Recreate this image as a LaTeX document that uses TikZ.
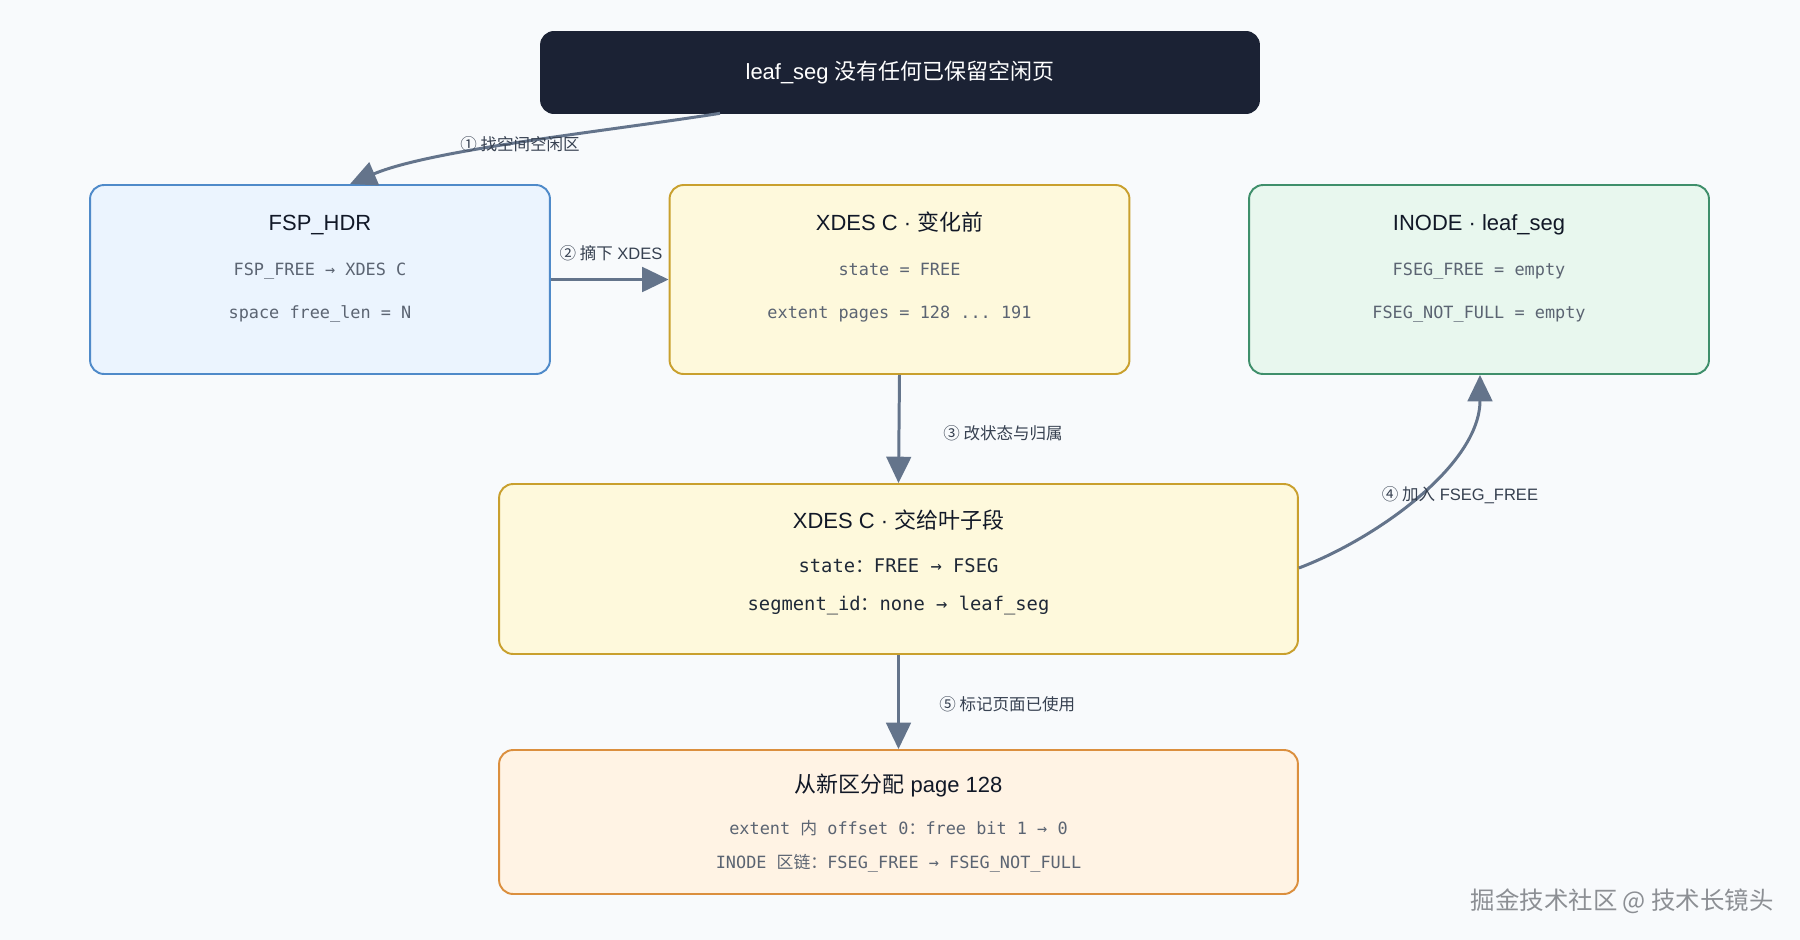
\documentclass[tikz,border=0pt]{standalone}
\usepackage{fontspec}
\setmainfont{Liberation Sans}
\setmonofont{DejaVu Sans Mono}
\newfontfamily\cjk{Noto Sans CJK SC}
\usetikzlibrary{arrows.meta,calc}
\definecolor{bgcol}{HTML}{F8FAFC}
\definecolor{navy}{HTML}{1B2234}
\definecolor{arrowcol}{HTML}{64748B}
\definecolor{bluefill}{HTML}{EBF4FE}
\definecolor{blueline}{HTML}{4F8AC9}
\definecolor{yellowfill}{HTML}{FEF9DC}
\definecolor{yellowline}{HTML}{C9A02E}
\definecolor{greenfill}{HTML}{E8F7EE}
\definecolor{greenline}{HTML}{3F8F6B}
\definecolor{orangefill}{HTML}{FFF3E4}
\definecolor{orangeline}{HTML}{DB8F3E}
\definecolor{titlecol}{HTML}{111827}
\definecolor{monocol}{HTML}{5B6472}
\definecolor{darkmono}{HTML}{1F2937}
\definecolor{labelcol}{HTML}{374151}
\definecolor{markcol}{HTML}{8C8F94}
\begin{document}
\begin{tikzpicture}[x=0.02cm,y=-0.02cm,%
every node/.style={inner sep=0pt, align=center},
mybox/.style={rectangle, rounded corners=0.28cm, line width=1.1pt, minimum width=9.2cm, minimum height=3.78cm},
widebox/.style={mybox, minimum width=15.98cm},
mytitle/.style={anchor=mid, text=titlecol, font=\fontsize{12.5}{15}\selectfont},
mymono/.style={anchor=mid, text=monocol, font=\ttfamily\fontsize{9.6}{12}\selectfont},
darkmono/.style={anchor=mid, text=darkmono, font=\ttfamily\fontsize{10.7}{13}\selectfont},
mylabel/.style={anchor=mid, text=labelcol, font=\fontsize{9.4}{11}\selectfont},
myarrow/.style={draw=arrowcol, line width=1.7pt, -{Triangle[length=15pt,width=14pt]}} ]
% background
\fill[bgcol] (0,0) rectangle (1800,940);
\node[rectangle, rounded corners=0.28cm, fill=navy, minimum width=14.4cm, minimum height=1.66cm,
 text=white, font=\fontsize{12.5}{15}\selectfont] (top) at (900,72.5) {leaf\_seg {\cjk 没有任何已保留空闲页}};
% first row
\node[mybox, fill=bluefill, draw=blueline] (fsp) at (320,279.5) {};
\node[mytitle] (fsp-title) at (320,225.5) {FSP\_HDR};
\node[mymono] (fsp-a) at (320,270.5) {FSP\_FREE → XDES C};
\node[mymono] (fsp-b) at (320,313.5) {space free\_len = N};
\node[mybox, fill=yellowfill, draw=yellowline] (xold) at (899.5,279.5) {};
\node[mytitle] (xold-title) at (899.5,225.5) {XDES C · {\cjk 变化前}};
\node[mymono] (xold-a) at (899.5,270.5) {state = FREE};
\node[mymono] (xold-b) at (899.5,313.5) {extent pages = 128 ... 191};
\node[mybox, fill=greenfill, draw=greenline] (inode) at (1479,279.5) {};
\node[mytitle] (inode-title) at (1479,225.5) {INODE · leaf\_seg};
\node[mymono] (inode-a) at (1479,270.5) {FSEG\_FREE = empty};
\node[mymono] (inode-b) at (1479,313.5) {FSEG\_NOT\_FULL = empty};
% handed to the leaf segment
\node[widebox, minimum height=3.4cm, fill=yellowfill, draw=yellowline] (xnew) at (898.5,569) {};
\node[mytitle] (xnew-title) at (898.5,523.5) {XDES C · {\cjk 交给叶子段}};
\node[darkmono] (xnew-a) at (898.5,567.5) {state{\cjk ：}FREE → FSEG};
\node[darkmono] (xnew-b) at (898.5,605.5) {segment\_id{\cjk ：}none → leaf\_seg};
% page allocation
\node[widebox, minimum height=2.88cm, fill=orangefill, draw=orangeline] (alloc) at (898.5,822) {};
\node[mytitle] (alloc-title) at (898.5,788) {{\cjk 从新区分配} page 128};
\node[mymono] (alloc-a) at (898.5,829.5) {extent {\cjk 内} offset 0{\cjk ：}free bit 1 → 0};
\node[mymono] (alloc-b) at (898.5,863.5) {INODE {\cjk 区链：}FSEG\_FREE → FSEG\_NOT\_FULL};
% connectors
\draw[myarrow] ($(top.south)+(-180,-1)$) .. controls (600,132) and (430,150) .. ($(fsp.north)+(30,0)$);
\draw[myarrow] (fsp.east) -- (xold.west);
\draw[myarrow] (xold.south) -- (xnew.north);
\draw[myarrow] ($(xnew.east)+(0,-1)$) .. controls (1378,538) and (1480,464) .. ($(inode.south)+(1,0)$);
\draw[myarrow] (xnew.south) -- (alloc.north);
\node[mylabel] (lab1) at (520,146) {{\cjk ① 找空间空闲区}};
\node[mylabel] (lab2) at (611,255) {{\cjk ② 摘下} XDES};
\node[mylabel, anchor=west] (lab3) at (943,433) {{\cjk ③ 改状态与归属}};
\node[mylabel] (lab4) at (1460,496) {{\cjk ④ 加入} FSEG\_FREE};
\node[mylabel, anchor=west] (lab5) at (939,704) {{\cjk ⑤ 标记页面已使用}};
\node[anchor=east, text=markcol, font=\cjk\fontsize{13.9}{16}\selectfont] (mark) at (1774,901) {掘金技术社区 @ 技术长镜头};
\end{tikzpicture}
\end{document}
